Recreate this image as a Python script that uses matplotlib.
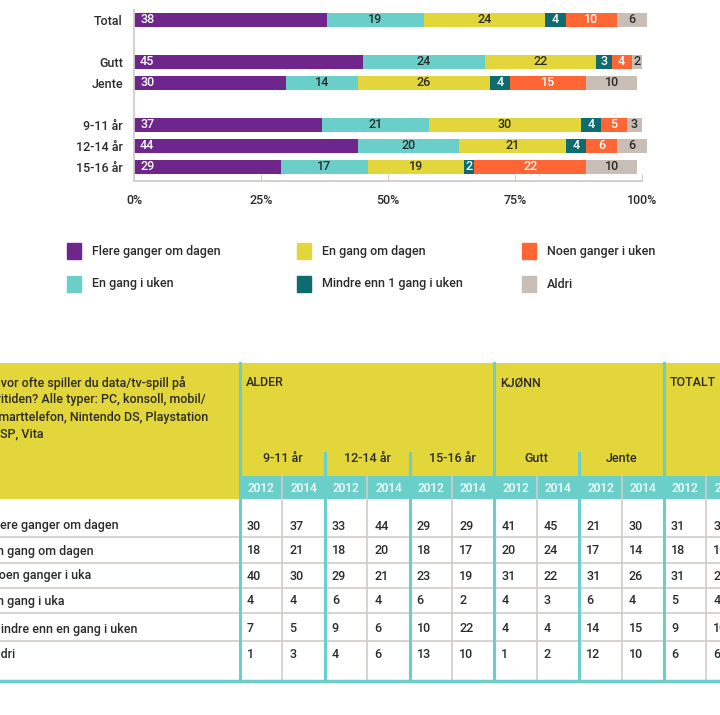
import matplotlib
matplotlib.use("Agg")
import matplotlib.pyplot as plt
from matplotlib.patches import Rectangle

plt.rcParams['font.family'] = ['Roboto', 'DejaVu Sans']
plt.rcParams['font.weight'] = 'medium'

# --- bar chart data (2014, percent) ---
groups = ["Total", "Gutt", "Jente", "9-11 år", "12-14 år", "15-16 år"]
group_pos = [0, 2, 3, 5, 6, 7]

series_names = ["Flere ganger om dagen", "En gang i uken", "En gang om dagen",
                "Mindre enn 1 gang i uken", "Noen ganger i uken", "Aldri"]
flere = [38, 45, 30, 37, 44, 29]
en_gang_uken = [19, 24, 14, 21, 20, 17]
en_gang_dagen = [24, 22, 26, 30, 21, 19]
mindre = [4, 3, 4, 4, 4, 2]
noen = [10, 4, 15, 5, 6, 22]
aldri = [6, 2, 10, 3, 6, 10]

# --- table data ---
question = ["Hvor ofte spiller du data/tv-spill på",
            "fritiden? Alle typer: PC, konsoll, mobil/",
            "smarttelefon, Nintendo DS, Playstation",
            "PSP, Vita"]
main_groups = ["ALDER", "KJØNN", "TOTALT"]
sub_groups = ["9-11 år", "12-14 år", "15-16 år", "Gutt", "Jente"]
years = ["2012", "2014"] * 6
row_labels = ["Flere ganger om dagen", "En gang om dagen", "Noen ganger i uka",
              "En gang i uka", "Mindre enn en gang i uken", "Aldri"]
t_flere = [30, 37, 33, 44, 29, 29, 41, 45, 21, 30, 31, 38]
t_en_dagen = [18, 21, 18, 20, 18, 17, 20, 24, 17, 14, 18, 19]
t_noen = [40, 30, 29, 21, 23, 19, 31, 22, 31, 26, 31, 24]
t_en_uka = [4, 4, 6, 4, 6, 2, 4, 3, 6, 4, 5, 4]
t_mindre = [7, 5, 9, 6, 10, 22, 4, 4, 14, 15, 9, 10]
t_aldri = [1, 3, 4, 6, 13, 10, 1, 2, 12, 10, 6, 6]
table_rows = [t_flere, t_en_dagen, t_noen, t_en_uka, t_mindre, t_aldri]

purple = "#6E268C"
teal = "#6ACFC9"
yellow = "#E3D63A"
darkteal = "#0E6B70"
orange = "#FF6633"
grey = "#C9BEB6"
linegrey = "#D3CCC7"
txt = "#2B2B2B"
colors = [purple, teal, yellow, darkteal, orange, grey]
label_colors = ["white", txt, txt, "white", "white", txt]

W, H = 720, 715
fig = plt.figure(figsize=(W / 100, H / 100), dpi=100)

# bar axes in pixel layout
ax = fig.add_axes([134 / W, 1 - 181 / H, 102 * 5.08 / W, 171 / H])
ax.set_xlim(0, 102)
ax.set_ylim(7.667, -0.476)

left = [0] * len(groups)
series = [flere, en_gang_uken, en_gang_dagen, mindre, noen, aldri]
for i, vals in enumerate(series):
    bars = ax.barh(group_pos, vals, left=left, height=0.7, color=colors[i],
                   label=series_names[i], clip_on=False)
    if i == 0:
        for y, v in zip(group_pos, vals):
            ax.text(1.2, y, str(v), ha="left", va="center", color="white",
                    fontsize=9)
    else:
        ax.bar_label(bars, label_type="center", color=label_colors[i],
                     fontsize=9)
    left = [a + b for a, b in zip(left, vals)]

for s in ["top", "right"]:
    ax.spines[s].set_visible(False)
for s in ["left", "bottom"]:
    ax.spines[s].set_color(linegrey)
    ax.spines[s].set_linewidth(1.3)
ax.spines["bottom"].set_bounds(0, 100)
ax.set_xticks([0, 25, 50, 75, 100])
ax.set_xticklabels(["0%", "25%", "50%", "75%", "100%"])
ax.tick_params(axis="x", direction="in", length=5, color=linegrey,
               labelcolor=txt, labelsize=9, pad=9)
ax.set_yticks(group_pos)
ax.set_yticklabels(groups)
ax.tick_params(axis="y", length=0, labelcolor=txt, labelsize=9, pad=8)

# overlay in pixel coordinates for legend and table
ov = fig.add_axes([0, 0, 1, 1])
ov.set_xlim(0, W)
ov.set_ylim(H, 0)
ov.axis("off")

# legend, column-wise like the original
leg_x = [67, 297, 522]
leg_y = [251, 284]
for i, name in enumerate(series_names):
    cx, cy = leg_x[i // 2], leg_y[i % 2]
    ov.add_patch(Rectangle((cx, cy - 8), 14, 16, color=colors[i]))
    ov.text(cx + 25, cy, name, ha="left", va="center", color=txt, fontsize=9)

# table layout
col_w = 42.4
x0 = 240
col_x = [x0 + i * col_w for i in range(13)]
top, year_top, year_bot, bot = 363, 476, 499, 681
row_y = [526, 551, 576, 601, 629, 654]
row_lines = [537, 563, 588, 613, 641]

ov.add_patch(Rectangle((-20, top), x0 + 20, year_bot - top, color=yellow, lw=0))
ov.add_patch(Rectangle((x0, top), W - x0, year_top - top, color=yellow, lw=0))
ov.add_patch(Rectangle((x0, year_top), W - x0, year_bot - year_top, color=teal, lw=0))

for y in row_lines:
    ov.plot([0, W], [y, y], color=linegrey, lw=1.2)

for i, x in enumerate(col_x):
    if i in (0, 6, 10):
        ov.plot([x, x], [top, bot], color=teal, lw=2.2)
    elif i in (2, 4, 8):
        ov.plot([x, x], [453, bot], color=teal, lw=2.2)
    else:
        ov.plot([x, x], [year_top, bot], color=linegrey, lw=1.2)
ov.plot([0, W], [bot, bot], color=teal, lw=2.5)

for k, line in enumerate(question):
    ov.text(-8, 383 + k * 17, line, ha="left", va="center", color=txt,
            fontsize=9)
for name, i in zip(main_groups, (0, 6, 10)):
    ov.text(col_x[i] + 6, 383, name, ha="left", va="center", color=txt,
            fontsize=9)
for k, name in enumerate(sub_groups):
    ov.text((col_x[2 * k] + col_x[2 * k + 2]) / 2, 458, name, ha="center",
            va="center", color=txt, fontsize=9)
for k, yr in enumerate(years):
    ov.text(col_x[k] + col_w / 2, 488, yr, ha="center", va="center",
            color="white", fontsize=8.5)

for r, (label, vals) in enumerate(zip(row_labels, table_rows)):
    ov.text(-10.5, row_y[r], label, ha="left", va="center", color=txt,
            fontsize=9)
    for k, v in enumerate(vals):
        ov.text(col_x[k] + 7, row_y[r], str(v), ha="left", va="center",
                color=txt, fontsize=9)

fig.savefig("out.png", dpi=100)
